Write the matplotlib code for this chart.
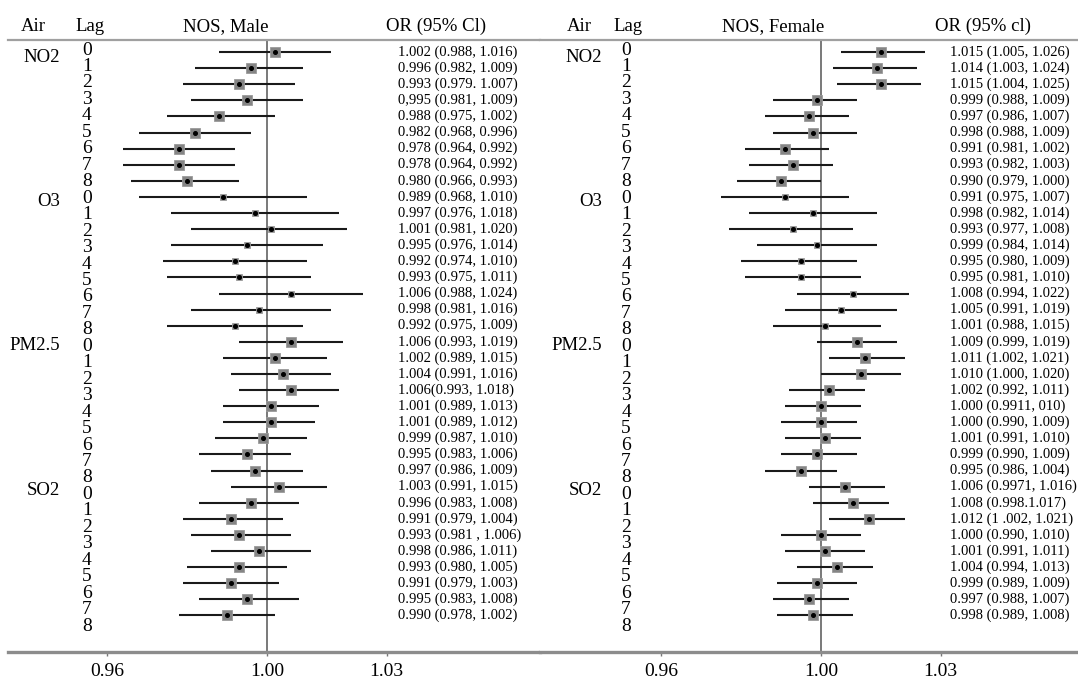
import matplotlib
matplotlib.use("Agg")
import matplotlib.pyplot as plt
from matplotlib.transforms import blended_transform_factory

plt.rcParams['font.family'] = ['Liberation Serif', 'DejaVu Serif']

pollutants = ["NO2", "O3", "PM2.5", "SO2"]
lags = [0, 1, 2, 3, 4, 5, 6, 7, 8]
ticks = [0.96, 1.00, 1.03]
tick_labels = ["0.96", "1.00", "1.03"]

# NOS, Male
male_or = [1.002, 0.996, 0.993, 0.995, 0.988, 0.982, 0.978, 0.978, 0.980,
           0.989, 0.997, 1.001, 0.995, 0.992, 0.993, 1.006, 0.998, 0.992,
           1.006, 1.002, 1.004, 1.006, 1.001, 1.001, 0.999, 0.995, 0.997,
           1.003, 0.996, 0.991, 0.993, 0.998, 0.993, 0.991, 0.995, 0.990]
male_lo = [0.988, 0.982, 0.979, 0.981, 0.975, 0.968, 0.964, 0.964, 0.966,
           0.968, 0.976, 0.981, 0.976, 0.974, 0.975, 0.988, 0.981, 0.975,
           0.993, 0.989, 0.991, 0.993, 0.989, 0.989, 0.987, 0.983, 0.986,
           0.991, 0.983, 0.979, 0.981, 0.986, 0.980, 0.979, 0.983, 0.978]
male_hi = [1.016, 1.009, 1.007, 1.009, 1.002, 0.996, 0.992, 0.992, 0.993,
           1.010, 1.018, 1.020, 1.014, 1.010, 1.011, 1.024, 1.016, 1.009,
           1.019, 1.015, 1.016, 1.018, 1.013, 1.012, 1.010, 1.006, 1.009,
           1.015, 1.008, 1.004, 1.006, 1.011, 1.005, 1.003, 1.008, 1.002]
male_text = ["1.002 (0.988, 1.016)", "0.996 (0.982, 1.009)", "0.993 (0.979. 1.007)",
             "0,995 (0.981, 1.009)", "0.988 (0.975, 1.002)", "0.982 (0.968, 0.996)",
             "0.978 (0.964, 0.992)", "0.978 (0.964, 0.992)", "0.980 (0.966, 0.993)",
             "0.989 (0.968, 1.010)", "0.997 (0.976, 1.018)", "1.001 (0.981, 1.020)",
             "0.995 (0.976, 1.014)", "0.992 (0.974, 1.010)", "0.993 (0.975, 1.011)",
             "1.006 (0.988, 1.024)", "0.998 (0.981, 1.016)", "0.992 (0.975, 1.009)",
             "1.006 (0.993, 1.019)", "1.002 (0.989, 1.015)", "1.004 (0.991, 1.016)",
             "1.006(0.993, 1.018)", "1.001 (0.989, 1.013)", "1.001 (0.989, 1.012)",
             "0.999 (0.987, 1.010)", "0.995 (0.983, 1.006)", "0.997 (0.986, 1.009)",
             "1.003 (0.991, 1.015)", "0.996 (0.983, 1.008)", "0.991 (0.979, 1.004)",
             "0.993 (0.981 , 1.006)", "0.998 (0.986, 1.011)", "0.993 (0.980, 1.005)",
             "0.991 (0.979, 1.003)", "0.995 (0.983, 1.008)", "0.990 (0.978, 1.002)"]

# NOS, Female
female_or = [1.015, 1.014, 1.015, 0.999, 0.997, 0.998, 0.991, 0.993, 0.990,
             0.991, 0.998, 0.993, 0.999, 0.995, 0.995, 1.008, 1.005, 1.001,
             1.009, 1.011, 1.010, 1.002, 1.000, 1.000, 1.001, 0.999, 0.995,
             1.006, 1.008, 1.012, 1.000, 1.001, 1.004, 0.999, 0.997, 0.998]
female_lo = [1.005, 1.003, 1.004, 0.988, 0.986, 0.988, 0.981, 0.982, 0.979,
             0.975, 0.982, 0.977, 0.984, 0.980, 0.981, 0.994, 0.991, 0.988,
             0.999, 1.002, 1.000, 0.992, 0.991, 0.990, 0.991, 0.990, 0.986,
             0.997, 0.998, 1.002, 0.990, 0.991, 0.994, 0.989, 0.988, 0.989]
female_hi = [1.026, 1.024, 1.025, 1.009, 1.007, 1.009, 1.002, 1.003, 1.000,
             1.007, 1.014, 1.008, 1.014, 1.009, 1.010, 1.022, 1.019, 1.015,
             1.019, 1.021, 1.020, 1.011, 1.010, 1.009, 1.010, 1.009, 1.004,
             1.016, 1.017, 1.021, 1.010, 1.011, 1.013, 1.009, 1.007, 1.008]
female_text = ["1.015 (1.005, 1.026)", "1.014 (1.003, 1.024)", "1.015 (1.004, 1.025)",
               "0.999 (0.988, 1.009)", "0.997 (0.986, 1.007)", "0.998 (0.988, 1.009)",
               "0.991 (0.981, 1.002)", "0.993 (0.982, 1.003)", "0.990 (0.979, 1.000)",
               "0.991 (0.975, 1.007)", "0.998 (0.982, 1.014)", "0.993 (0.977, 1.008)",
               "0.999 (0.984, 1.014)", "0.995 (0.980, 1.009)", "0.995 (0.981, 1.010)",
               "1.008 (0.994, 1.022)", "1.005 (0.991, 1.019)", "1.001 (0.988, 1.015)",
               "1.009 (0.999, 1.019)", "1.011 (1.002, 1.021)", "1.010 (1.000, 1.020)",
               "1.002 (0.992, 1.011)", "1.000 (0.9911, 010)", "1.000 (0.990, 1.009)",
               "1.001 (0.991, 1.010)", "0.999 (0.990, 1.009)", "0.995 (0.986, 1.004)",
               "1.006 (0.9971, 1.016)", "1.008 (0.998.1.017)", "1.012 (1 .002, 1.021)",
               "1.000 (0.990, 1.010)", "1.001 (0.991, 1.011)", "1.004 (0.994, 1.013)",
               "0.999 (0.989, 1.009)", "0.997 (0.988, 1.007)", "0.998 (0.989, 1.008)"]

# square size per pollutant (study weight look)
square_ms = [6.5, 4.0, 7.5, 7.5]

W, H = 1078, 679
fig = plt.figure(figsize=(W / 100, H / 100), dpi=100)


def panel(left_px, right_px, one_px, estim, lo, hi, texts, title, or_head, x_air, x_lag,
          x_title, x_poll, x_lagnum, x_or_head, x_or):
    ax = fig.add_axes([left_px / W, 1 - 652 / H, (right_px - left_px) / W, 612 / H])
    scale = 3990.0
    ax.set_xlim(1 + (left_px - one_px) / scale, 1 + (right_px - one_px) / scale)
    ax.set_ylim(37.27, -0.75)

    n = len(estim)
    rows = list(range(n))
    ax.axvline(1.0, color="#555555", lw=1.1, zorder=1)
    ax.hlines(rows, lo, hi, color="#1a1a1a", lw=1.5, zorder=2)
    for g in range(len(pollutants)):
        sl = slice(g * 9, g * 9 + 9)
        ax.plot(estim[sl], rows[sl], 's', color="#858585", ms=square_ms[g], mec="#9a9a9a",
                mew=0.6, zorder=3)
    ax.plot(estim, rows, 'o', color="black", ms=2.6, zorder=4)

    for s in ["left", "right"]:
        ax.spines[s].set_visible(False)
    ax.spines["top"].set_color("#a0a0a0")
    ax.spines["top"].set_linewidth(1.6)
    ax.spines["bottom"].set_color("#8c8c8c")
    ax.spines["bottom"].set_linewidth(2.4)
    ax.set_yticks([])
    ax.set_xticks(ticks)
    ax.set_xticklabels(tick_labels, fontsize=14)
    ax.tick_params(axis="x", length=3, width=1, color="#777777", pad=5)

    tr = blended_transform_factory(fig.transFigure, ax.transData)
    # lag labels drift slightly downward relative to rows, as in the original
    for i in range(n):
        ax.text(x_lagnum / W, -0.124 + 1.0224 * i, str(lags[i % 9]), transform=tr,
                ha="center", va="center", fontsize=14)
        ax.text(x_or / W, i, texts[i], transform=tr, ha="left", va="center", fontsize=10.5)
    for g, p in enumerate(pollutants):
        ax.text(x_poll / W, 9 * g * 0.995 + 0.35, p, transform=tr, ha="right", va="center",
                fontsize=13.5)

    yb = 1 - 31 / H
    fig.text(x_air / W, yb, "Air", ha="center", va="baseline", fontsize=13.5)
    fig.text(x_lag / W, yb, "Lag", ha="center", va="baseline", fontsize=13.5)
    fig.text(x_title / W, yb, title, ha="center", va="baseline", fontsize=13.5)
    fig.text(x_or_head / W, yb, or_head, ha="left", va="baseline", fontsize=13.5)
    return ax


panel(8, 540, 267, male_or, male_lo, male_hi, male_text, "NOS, Male", "OR (95% Cl)",
      33, 90, 226, 60, 87, 386, 398)
panel(540, 1078, 821, female_or, female_lo, female_hi, female_text, "NOS, Female",
      "OR (95% cl)", 579, 628, 773, 602, 626, 935, 950)

fig.savefig("out.png", dpi=100)
